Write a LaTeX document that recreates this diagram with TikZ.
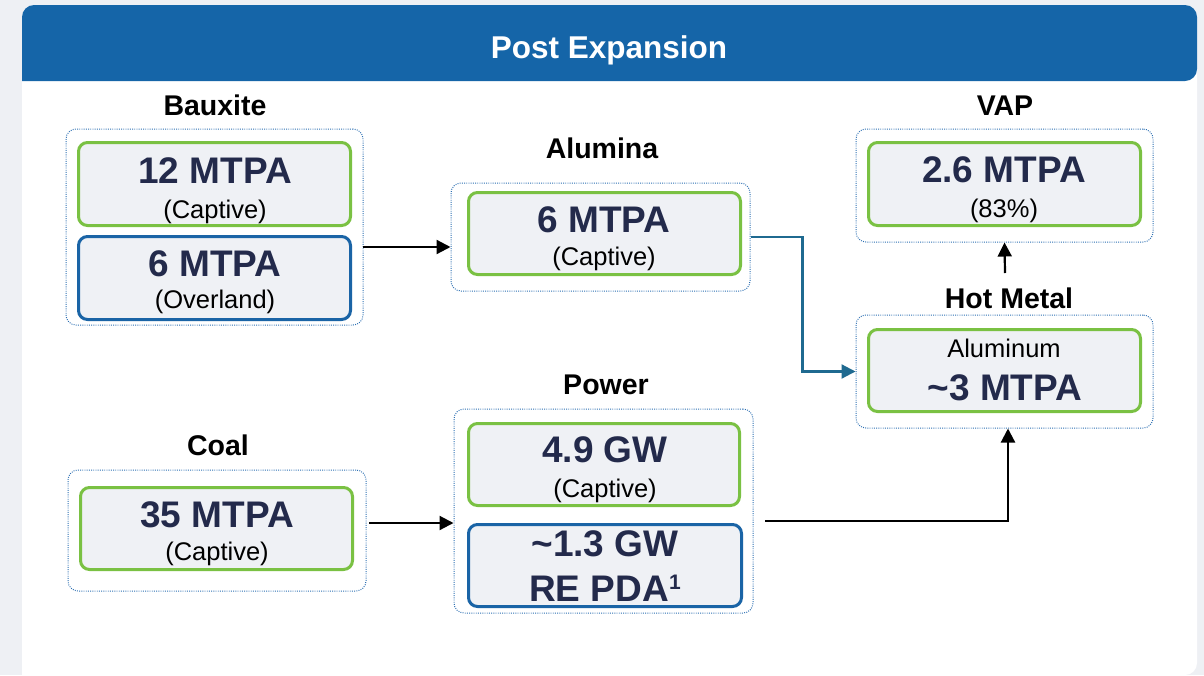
\documentclass[tikz,border=0pt]{standalone}
\usepackage{fontspec}
\setmainfont{Liberation Sans}
\usetikzlibrary{arrows.meta}
\definecolor{pagebg}{HTML}{EEF0F4}
\definecolor{headblue}{HTML}{1565A8}
\definecolor{capgreen}{HTML}{7AC143}
\definecolor{extblue}{HTML}{1A64A6}
\definecolor{boxfill}{HTML}{EFF1F5}
\definecolor{navy}{HTML}{232A4B}
\definecolor{dotblue}{HTML}{2C6FB3}
\definecolor{flowteal}{HTML}{1F6A90}
\begin{document}
\begin{tikzpicture}[x=1pt,y=-1pt,
  group/.style={draw=dotblue, dash pattern=on 0.9pt off 1.3pt, line width=1pt, rounded corners=10pt, inner sep=0pt},
  innerbox/.style={fill=boxfill, line width=3pt, rounded corners=9pt, inner sep=0pt},
  greenbox/.style={innerbox, draw=capgreen},
  bluebox/.style={innerbox, draw=extblue},
  secttitle/.style={anchor=base, font=\bfseries\fontsize{28.5}{30}\selectfont, inner sep=0pt},
  bignum/.style={anchor=base, font=\bfseries\fontsize{37}{40}\selectfont, text=navy, inner sep=0pt},
  subtext/.style={anchor=base, font=\fontsize{25.5}{28}\selectfont, inner sep=0pt},
  flow/.style={line width=2.2pt, -{Triangle[length=14pt,width=14pt]}},
]
% page background, white panel and header band
\useasboundingbox (0,0) rectangle (1204,675);
\fill[pagebg] (0,0) rectangle (1204,675);
\fill[white, rounded corners=12pt] (22,675) -- (22,5) -- (1197,5) -- (1197,675) [sharp corners] -- cycle;
\fill[headblue, rounded corners=12pt] (22,81) -- (22,5) -- (1197,5) -- (1197,81) [sharp corners] -- cycle;
\node[anchor=base, text=white, font=\bfseries\fontsize{31.5}{34}\selectfont, inner sep=0pt] (title) at (609,58) {Post Expansion};

% dotted group frames
\node[group, minimum width=297pt, minimum height=196pt] (bxgrp)  at (214.5,227) {};
\node[group, minimum width=299pt, minimum height=108pt] (alugrp) at (600.5,237) {};
\node[group, minimum width=297pt, minimum height=113pt] (vapgrp) at (1004.5,185.5) {};
\node[group, minimum width=297pt, minimum height=113pt] (hotgrp) at (1004.5,371.5) {};
\node[group, minimum width=298pt, minimum height=121pt] (coalgrp) at (217,530.5) {};
\node[group, minimum width=299pt, minimum height=204pt] (pwrgrp) at (603.5,511) {};

% capacity boxes
\node[greenbox, minimum width=272pt, minimum height=83pt] (bxcap)  at (214.5,184) {};
\node[bluebox,  minimum width=272pt, minimum height=83pt] (bxover) at (214.5,278) {};
\node[greenbox, minimum width=272pt, minimum height=82pt] (alubox) at (604.5,233.5) {};
\node[greenbox, minimum width=272pt, minimum height=83pt] (vapbox) at (1004.5,184) {};
\node[greenbox, minimum width=272pt, minimum height=82pt] (hotbox) at (1004.5,370.5) {};
\node[greenbox, minimum width=272pt, minimum height=82pt] (coalbox) at (216.5,528.5) {};
\node[greenbox, minimum width=271pt, minimum height=82pt] (pwrcap) at (604,464.5) {};
\node[bluebox,  minimum width=273pt, minimum height=82pt] (pwrre)  at (605,565.5) {};

% section titles
\node[secttitle] (tbx)   at (215,115) {Bauxite};
\node[secttitle] (talu)  at (602,158) {Alumina};
\node[secttitle] (tvap)  at (1005,115) {VAP};
\node[secttitle] (thot)  at (1009,308) {Hot Metal};
\node[secttitle] (tcoal) at (218,455) {Coal};
\node[secttitle] (tpwr)  at (606,394) {Power};

% figures
\node[bignum]  (nbx1)  at (215,183) {12 MTPA};
\node[subtext] (sbx1)  at (215,218) {(Captive)};
\node[bignum]  (nbx2)  at (215,276) {6 MTPA};
\node[subtext] (sbx2)  at (215,308) {(Overland)};
\node[bignum]  (nalu)  at (604,232) {6 MTPA};
\node[subtext] (salu)  at (604,265) {(Captive)};
\node[bignum]  (nvap)  at (1004,182) {2.6 MTPA};
\node[subtext] (svap)  at (1004,217) {(83\%)};
\node[subtext] (shot)  at (1004,357) {Aluminum};
\node[bignum]  (nhot)  at (1005,400) {\textasciitilde3 MTPA};
\node[bignum]  (ncoal) at (217,527) {35 MTPA};
\node[subtext] (scoal) at (217,560) {(Captive)};
\node[bignum]  (npwr)  at (605,462) {4.9 GW};
\node[subtext] (spwr)  at (605,497) {(Captive)};
\node[bignum]  (nre1)  at (605,556) {\textasciitilde1.3 GW};
\node[bignum]  (nre2)  at (605,601) {RE PDA\raisebox{11.5pt}{\fontsize{21}{21}\selectfont 1}};

% flows
\coordinate (bxout)   at (363,247);
\coordinate (hotout)  at (1005,273);
\coordinate (coalout) at (369,523);
\coordinate (pwrout)  at (765,521);
\coordinate (pwrturn) at (1008,521);
\draw[flow] (bxout) -- (bxout -| alugrp.west);
\draw[flow, draw=flowteal] (alugrp.east) -- ++(52,0) |- (hotgrp.west);
\draw[flow] (hotout) -- (vapgrp.south);
\draw[flow] (coalout) -- (coalout -| pwrgrp.west);
\draw[flow] (pwrout) -- (pwrturn) -- (pwrturn |- hotgrp.south);
\end{tikzpicture}
\end{document}
